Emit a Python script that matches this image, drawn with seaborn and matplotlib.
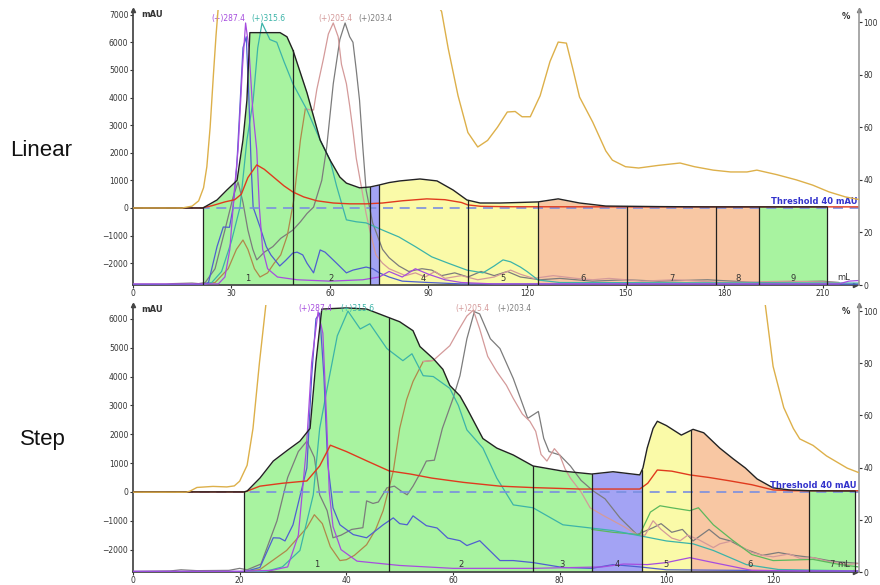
import numpy as np
import matplotlib
matplotlib.use("Agg")
import matplotlib.pyplot as plt
import seaborn as sns

# ---------------- Linear gradient run (top panel) ----------------
lin_uv_ml = [0, 21.3, 25.6, 28.6, 31.7, 33.5, 34.7, 35.6, 44.8, 46.9, 48.7, 53, 57, 60, 63, 65,
             69, 72.2, 74.9, 78, 81.3, 87.4, 92.6, 97.5, 101.7, 105.7, 111.8, 118, 123.4, 129.5,
             136, 144, 160, 175, 191, 211.4]
lin_uv = [0, 0, 290, 650, 1000, 2460, 3900, 6350, 6350, 6200, 5720, 4170, 2460, 1740, 1120, 900,
          730, 760, 830, 920, 980, 1050, 980, 650, 290, 180, 180, 200, 220, 330,
          180, 70, 50, 40, 40, 40]

lin_frac_edges = [21.3, 48.7, 72.2, 74.9, 102, 123.4, 150.5, 177.6, 190.7, 211.4]
lin_frac_kind = ["g", "g", "b", "y", "y", "o", "o", "o", "g"]
lin_frac_labels = ["1", "2", "", "4", "5", "6", "7", "8", "9"]

lin_purple_ml = [0, 26, 28, 29.5, 31, 32, 33.3, 34.3, 35.3, 36.5, 37.7, 38.5, 39.5, 41, 44, 50, 60,
                 70, 75, 78, 82, 86, 90, 95, 100, 110, 215, 218, 222]
lin_purple = [-2750, -2750, -2500, -1500, 800, 2100, 5000, 6700, 5800, 3500, 2100, 0, -1500, -2200,
              -2500, -2600, -2650, -2600, -2500, -2300, -2500, -2200, -2400, -2600, -2700, -2750,
              -2750, -2650, -2620]

lin_blue_ml = [0, 21, 23, 25.6, 27.5, 29.4, 30.5, 31.6, 32.5, 33.5, 34.5, 35.3, 36, 36.6, 38.7, 40.6,
               42, 44.7, 46.5, 48.7, 50, 51.7, 53, 55, 57, 58.5, 60, 62, 65, 67, 71, 73, 75, 78, 82,
               90, 100, 222]
lin_blue = [-2780, -2780, -2700, -1400, -690, -700, 30, 1500, 3500, 5800, 6200, 4000, 1500, 30, -690,
            -1400, -1700, -2100, -1900, -1630, -1600, -1700, -2000, -2350, -1520, -1600, -1770, -2000,
            -2350, -2250, -2140, -2200, -2350, -2500, -2650, -2700, -2750, -2760]

lin_teal_ml = [0, 21, 24, 27, 30, 32.6, 34.7, 36.6, 38, 39.3, 41.7, 43.8, 46, 48.7, 53, 57, 60, 62, 65,
               68, 71, 76, 81, 86, 91, 96, 101.7, 106.6, 110, 112.7, 115, 118, 120, 123.4, 130, 222]
lin_teal = [-2780, -2780, -2700, -2300, -1200, 30, 2460, 3900, 5800, 6700, 6100, 6000, 5300, 4500,
            3550, 2460, 1740, 800, -430, -500, -540, -800, -1050, -1400, -1770, -2000, -2250, -2350,
            -2100, -1880, -1950, -2140, -2300, -2610, -2700, -2720]

lin_brown_ml = [21, 25, 29, 31.5, 33.5, 35, 37, 38.7, 41, 43, 45, 47, 49, 51, 52.5]
lin_brown = [-2760, -2700, -2200, -1500, -1160, -1500, -2200, -2500, -2350, -2000, -1700, -1000, 300,
             2460, 3600]

lin_pink_ml = [52.5, 54, 55, 56, 58, 59.5, 61, 62.5, 63.5, 65, 66, 67, 68, 69.5, 71, 72.5, 74, 76, 78,
               80, 83, 86, 89, 92, 95, 100, 105, 110, 115, 118, 122, 128, 135, 140, 145, 155, 165,
               180, 200, 215]
lin_pink = [3600, 3550, 3550, 4300, 5400, 6300, 6700, 6200, 5200, 4500, 3700, 2800, 1800, 800, -200,
            -1000, -1700, -2000, -2200, -2300, -2450, -2350, -2500, -2300, -2550, -2450, -2600, -2500,
            -2250, -2400, -2550, -2450, -2550, -2600, -2550, -2650, -2600, -2700, -2650, -2700]

lin_gray_ml = [0, 10, 12, 15, 18, 20, 22, 25, 28, 30.5, 32, 33.5, 35, 36.5, 37.7, 40, 42.6, 45, 48.7,
               51, 53, 55, 57.5, 59, 61, 63, 64.6, 66, 67, 68, 69, 70, 71, 73, 76, 78, 81, 84, 88, 91,
               94, 98, 102, 106, 110, 114, 118, 124, 130, 140, 150, 160, 175, 190, 210, 215]
lin_gray = [-2760, -2760, -2740, -2730, -2720, -2740, -2700, -2200, -800, 400, 940, 200, -800, -1500,
            -1880, -1600, -1400, -1100, -800, -500, -200, 30, 1000, 2200, 4500, 6100, 6700, 6200,
            6000, 5000, 3900, 2200, 650, -540, -1500, -1800, -2100, -2300, -2200, -2250, -2450, -2350,
            -2500, -2300, -2450, -2300, -2500, -2600, -2550, -2650, -2600, -2650, -2600, -2700, -2650,
            -2700]

lin_red_ml = [0, 21, 24, 28, 31, 33, 35, 37.7, 40, 43, 46, 48.7, 52, 56, 61, 66, 71, 76, 82, 89.5, 95,
              100, 102, 106, 115, 150, 222]
lin_red = [0, 0, 80, 220, 300, 500, 1100, 1560, 1400, 1100, 800, 580, 400, 260, 180, 150, 150, 180,
           260, 330, 300, 200, 110, 60, 45, 40, 40]

lin_gold_ml = [0, 15, 18, 20, 21.5, 22.5, 23.5, 24.5, 25.3, 26, 30, 90, 93, 94, 96, 99, 102, 105, 108,
               111, 114, 116.4, 118.5, 121, 124, 127, 129.5, 132, 134, 136, 140, 144, 146, 150, 154,
               160, 166.6, 171, 176.7, 182, 187, 190, 196, 202, 207, 212, 217, 222]
lin_gold = [29.3, 29.3, 30, 32, 37, 45, 60, 80, 95, 106, 130, 130, 106, 104, 90, 72, 58, 52.5, 55, 60,
            65.8, 66, 64, 64, 72, 85, 92.4, 92, 82, 71.5, 62, 51, 47.5, 45, 44.5, 45.5, 46.4, 45,
            43.7, 43, 43, 43.7, 42, 40, 38, 35.4, 33.5, 32.3]

lin_peak_ml = [24, 36.2, 56.4, 68.5]

# ---------------- Step gradient run (bottom panel) ----------------
stp_uv_ml = [0, 20.8, 21.4, 23.8, 26.3, 29, 31.3, 33.2, 34.3, 35.4, 40, 43.8, 47.6, 50, 52.5, 53.8,
             56.3, 58.1, 59.4, 61.3, 62.6, 65.6, 68.2, 71.3, 75, 80.6, 86, 90, 95, 95.6, 96.4, 97.5,
             98.3, 100, 102.8, 105, 107, 110, 112.5, 114.8, 117, 120, 123, 126.8, 135.4]
stp_uv = [0, 0, 30, 480, 1070, 1450, 1760, 2200, 4500, 6340, 6380, 6340, 6070, 5900, 5590, 5040,
          4620, 4250, 3690, 3330, 2900, 1850, 1520, 1280, 900, 720, 620, 700, 590, 830, 1520, 2200,
          2450, 2300, 1970, 2170, 2050, 1520, 1150, 830, 450, 140, 70, 40, 30]

stp_frac_edges = [20.8, 48, 75, 86, 95.4, 104.6, 126.8, 135.4]
stp_frac_kind = ["g", "g", "g", "b", "y", "o", "g"]
stp_frac_labels = ["1", "2", "3", "4", "5", "6", "7"]

stp_purple_ml = [0, 20, 26, 29, 31, 32.5, 33.5, 34.7, 35.6, 36.3, 36.8, 37.5, 39, 42, 50, 60, 75, 88,
                 92, 96.4, 100, 104.4, 108.8, 116, 125, 136]
stp_purple = [-2750, -2750, -2720, -2600, -1500, 1500, 4500, 6250, 5500, 2500, 0, -1200, -2000, -2400,
              -2550, -2650, -2650, -2600, -2500, -2520, -2450, -2280, -2450, -2720, -2740, -2740]

stp_blue_ml = [0, 21, 23.8, 26.3, 27.5, 28.5, 30, 31.5, 32.6, 33.5, 34.3, 35, 35.8, 36.5, 37.5, 38.8,
               41.3, 43.8, 46.9, 48.8, 50, 51.4, 52.5, 55, 57, 59, 61.3, 62.6, 65, 68.8, 71.3, 75, 80.6,
               86, 90, 95, 100, 136]
stp_blue = [-2760, -2760, -2620, -1590, -1600, -1700, -1140, 0, 830, 4000, 6000, 6200, 4000, 1000,
            -550, -1140, -1480, -1590, -1140, -900, -1100, -1140, -830, -1170, -1250, -1600, -1690,
            -1860, -1690, -2380, -2380, -2450, -2620, -2650, -2520, -2600, -2700, -2750]

stp_teal_ml = [0, 21.4, 25, 28, 31.3, 33.8, 35, 36.4, 38.3, 40.3, 42.6, 44.4, 47.6, 50.6, 52.3, 54.4,
               56.3, 59.4, 61, 62.6, 65.6, 68.2, 71.3, 75, 80.6, 90, 95, 100, 105, 108.8, 115, 121, 136]
stp_teal = [-2780, -2780, -2750, -2600, -2030, -100, 2200, 3590, 5410, 6270, 5650, 5830, 4970, 4550,
            4790, 4030, 4000, 3590, 3000, 2150, 1520, 480, -450, -550, -1140, -1340, -1520, -1700,
            -1800, -2030, -2520, -2690, -2740]

stp_green_ml = [86, 90, 95, 97, 98.8, 101, 104.4, 106, 108.8, 112.5, 116, 120, 127.5, 132.6, 136]
stp_green = [-1300, -1400, -1480, -700, -480, -550, -650, -550, -1140, -1690, -2170, -2380, -2340,
             -2520, -2600]

stp_brown_ml = [21, 23.8, 28.8, 32.6, 34, 35.5, 37, 38.8, 40, 41.5, 43.8, 45.5, 46.9, 48.8, 50, 51.3,
                52.5, 54.4, 56.3]
stp_brown = [-2760, -2690, -2030, -1240, -790, -1100, -1900, -2380, -2350, -2200, -1830, -1300, -650,
             720, 2200, 3200, 3830, 4520, 4560]

stp_pink_ml = [54.4, 56.3, 59.4, 61, 62.6, 63.8, 65, 66.5, 68.2, 70, 71.3, 73, 74.4, 75.5, 76.5, 77.6,
               79, 80, 81, 82, 84, 85.7, 88, 90, 92, 94.5, 96, 97.5, 99, 101, 102.6, 104, 106, 108.8,
               110, 112.5, 114, 116, 118, 120, 123, 125, 127.5, 130, 134, 136]
stp_pink = [4520, 4560, 5070, 5600, 6100, 6300, 5650, 4700, 4170, 3700, 3240, 2700, 2450, 2100, 1300,
            1070, 1500, 1280, 800, 480, 0, -550, -800, -1000, -1200, -1480, -1500, -1000, -1300,
            -1600, -1690, -1500, -1650, -1930, -1800, -1690, -1900, -2100, -2200, -2250, -2150, -2300,
            -2280, -2400, -2520, -2480]

stp_gray_ml = [0, 7, 9, 12, 18, 20, 21.4, 24, 27, 29, 31, 32.6, 34, 35, 36.4, 37.5, 39, 41, 43.1, 43.8,
               45, 46, 47.6, 49, 50.5, 51.4, 52.5, 54, 55, 56.5, 58, 60, 61.3, 62.6, 64, 65, 67, 68.8,
               71.3, 74, 76, 77, 78, 80, 82, 84, 86.3, 88.5, 91.3, 94.5, 97.5, 99, 101, 103, 105, 108,
               110, 112, 115, 118, 121, 124, 127.5, 131, 136]
stp_gray = [-2760, -2740, -2700, -2730, -2720, -2650, -2700, -2500, -1000, 500, 1400, 1760, 1200, -100,
            -650, -1590, -1500, -1300, -1240, -310, -400, -350, 140, 200, 0, -100, 200, 700, 1070, 1100,
            2200, 3240, 4030, 5310, 6250, 6170, 5310, 4970, 3930, 2550, 2790, 1860, 1400, 1280, 900,
            400, 30, -240, -900, -1480, -1240, -1100, -1400, -1300, -1700, -1300, -1600, -1700, -2000,
            -2200, -2100, -2200, -2280, -2400, -2480]

stp_red_ml = [0, 21, 23.8, 28, 32.6, 35, 37, 40, 43.9, 48, 52, 56, 62, 68.8, 75, 83.8, 95, 96.5, 98.3,
              101, 104.4, 108, 112, 116, 120, 124, 136]
stp_red = [0, 0, 200, 300, 380, 900, 1620, 1400, 1070, 730, 620, 480, 330, 200, 150, 100, 100, 300,
           760, 720, 590, 500, 380, 250, 70, 40, 40]

stp_gold_ml = [0, 10, 10.7, 12, 15, 17.6, 19, 20, 21.4, 22.5, 23.7, 25, 26, 60, 117, 118.5, 120, 122,
               123.8, 125, 127.5, 130, 133.9, 136.3]
stp_gold = [30.6, 30.6, 31, 32.4, 32.8, 32.6, 33, 34.8, 40.9, 55, 80, 104, 115, 130, 115, 103, 78.8,
            63, 55, 51, 48.5, 44.5, 39.8, 37.9]

stp_peak_ml = [31, 38.8, 60.4, 68.3]

peak_names = ["(+)287.4", "(+)315.6", "(+)205.4", "(+)203.4"]

C = {"purple": "#a64dde", "teal": "#3cb4a8", "pink": "#d49a9a", "gray": "#7c7c7c",
     "blue": "#4f5fd0", "brown": "#b0884a", "red": "#e03a1e", "gold": "#ddb04a",
     "green": "#5cb85c"}
FRAC = {"g": "#a8f3a0", "b": "#a3a3f4", "y": "#fafaa8", "o": "#f8c7a3"}
peak_colors = [C["purple"], C["teal"], C["pink"], C["gray"]]

sns.set_theme(style="white")
plt.rcParams["font.family"] = ["DejaVu Sans"]


def line(ax, xs, ys, color, lw=0.9, z=3):
    sns.lineplot(x=xs, y=ys, ax=ax, color=color, linewidth=lw, sort=False,
                 estimator=None, legend=False, zorder=z)


def fractions(ax, uv_x, uv_y, edges, kinds, labels, base):
    uv_x = np.asarray(uv_x, float)
    uv_y = np.asarray(uv_y, float)
    for a, b, k, lab in zip(edges[:-1], edges[1:], kinds, labels):
        inside = (uv_x > a) & (uv_x < b)
        xs = np.r_[a, uv_x[inside], b]
        ys = np.r_[np.interp(a, uv_x, uv_y), uv_y[inside], np.interp(b, uv_x, uv_y)]
        ax.fill_between(xs, ys, base, color=FRAC[k], lw=0, zorder=1)
        if lab:
            ax.text((a + b) / 2, base + 90, lab, fontsize=6, ha="center", va="bottom",
                    color="#333333", zorder=6)
    for e in edges:
        ax.plot([e, e], [base, np.interp(e, uv_x, uv_y)], color="#222222", lw=0.9, zorder=4)


def panel(ax, xmax, ylim, plim, xticks, yticks, data, peaks_ml, peak_y):
    ax.set_xlim(0, xmax)
    ax.set_ylim(*ylim)
    base = ylim[0]
    uv_x, uv_y, edges, kinds, labels, traces, red, gold = data

    fractions(ax, uv_x, uv_y, edges, kinds, labels, base)
    for xs, ys, col in traces:
        line(ax, xs, ys, col)
    ax.plot([0, xmax], [0, 0], color="#7a8fe0", lw=1.2, dashes=(6, 4), zorder=3.5)
    line(ax, red[0], red[1], C["red"], lw=1.0, z=3.6)
    line(ax, uv_x, uv_y, "#222222", lw=1.0, z=5)

    ax2 = ax.twinx()
    ax2.set_ylim(*plim)
    line(ax2, gold[0], gold[1], C["gold"], lw=1.0)

    for xm, name, col in zip(peaks_ml, peak_names, peak_colors):
        ax.text(xm, peak_y, name, color=col, fontsize=5.5, ha="left", va="center", zorder=7)
    ax.text(xmax - 0.5, 60, "Threshold 40 mAU", color="#3333cc", fontsize=6, ha="right",
            va="bottom", fontweight="bold", zorder=7)

    ax.set_xticks(xticks)
    ax.set_yticks(yticks)
    ax2.set_yticks([0, 20, 40, 60, 80, 100])
    for a in (ax, ax2):
        a.tick_params(labelsize=5.5, colors="#333333", length=2.5, width=0.8, pad=0.8,
                      direction="out")
        a.spines["top"].set_visible(False)
        a.grid(False)
    ax.tick_params(axis="x", pad=0.3)
    ax.tick_params(axis="y", left=True)
    ax.tick_params(axis="x", bottom=True)
    ax.spines["left"].set_color("#444444")
    ax.spines["bottom"].set_color("#444444")
    ax.spines["right"].set_visible(False)
    ax2.spines["left"].set_visible(False)
    ax2.spines["bottom"].set_visible(False)
    ax2.spines["right"].set_color("#9a9a9a")
    ax2.spines["right"].set_linewidth(1.2)
    ax.plot(0, 1, marker="^", color="#444444", ms=3, transform=ax.transAxes, clip_on=False)
    ax.plot(0.995, 0, marker=">", color="#444444", ms=3, transform=ax.transAxes, clip_on=False)
    ax2.plot(1, 1, marker="^", color="#777777", ms=3, transform=ax.transAxes, clip_on=False)
    ax.text(0.012, 0.985, "mAU", transform=ax.transAxes, fontsize=6, fontweight="bold",
            color="#333333", ha="left", va="center")
    ax.text(0.988, 0.975, "%", transform=ax.transAxes, fontsize=6, fontweight="bold",
            color="#333333", ha="right", va="center")
    ax.text(0.988, 0.012, "mL", transform=ax.transAxes, fontsize=6, color="#333333",
            ha="right", va="bottom")
    ax.set_xlabel("")
    ax.set_ylabel("")
    ax2.set_ylabel("")


fig = plt.figure(figsize=(8.8, 5.85), dpi=100)
ax_top = fig.add_axes([0.1511, 0.5128, 0.8250, 0.4701])
ax_bot = fig.add_axes([0.1511, 0.0222, 0.8250, 0.4564])

lin_traces = [(lin_gray_ml, lin_gray, C["gray"]), (lin_brown_ml, lin_brown, C["brown"]),
              (lin_pink_ml, lin_pink, C["pink"]), (lin_teal_ml, lin_teal, C["teal"]),
              (lin_blue_ml, lin_blue, C["blue"]), (lin_purple_ml, lin_purple, C["purple"])]
panel(ax_top, 221.1, (-2790, 7170), (0, 104.6), range(0, 211, 30),
      range(-2000, 7001, 1000),
      (lin_uv_ml, lin_uv, lin_frac_edges, lin_frac_kind, lin_frac_labels, lin_traces,
       (lin_red_ml, lin_red), (lin_gold_ml, lin_gold)),
      lin_peak_ml, 6874)

stp_traces = [(stp_gray_ml, stp_gray, C["gray"]), (stp_brown_ml, stp_brown, C["brown"]),
              (stp_pink_ml, stp_pink, C["pink"]), (stp_green_ml, stp_green, C["green"]),
              (stp_teal_ml, stp_teal, C["teal"]), (stp_blue_ml, stp_blue, C["blue"]),
              (stp_purple_ml, stp_purple, C["purple"])]
panel(ax_bot, 136.1, (-2777, 6480), (0, 102.3), range(0, 121, 20),
      range(-2000, 6001, 1000),
      (stp_uv_ml, stp_uv, stp_frac_edges, stp_frac_kind, stp_frac_labels, stp_traces,
       (stp_red_ml, stp_red), (stp_gold_ml, stp_gold)),
      stp_peak_ml, 6376)

fig.text(10 / 880, 1 - 150 / 585, "Linear", fontsize=16, family=["Liberation Sans", "DejaVu Sans"],
         ha="left", va="center", color="#111111")
fig.text(20 / 880, 1 - 440 / 585, "Step", fontsize=16, family=["Liberation Sans", "DejaVu Sans"],
         ha="left", va="center", color="#111111")

fig.savefig("out.png", dpi=100)
